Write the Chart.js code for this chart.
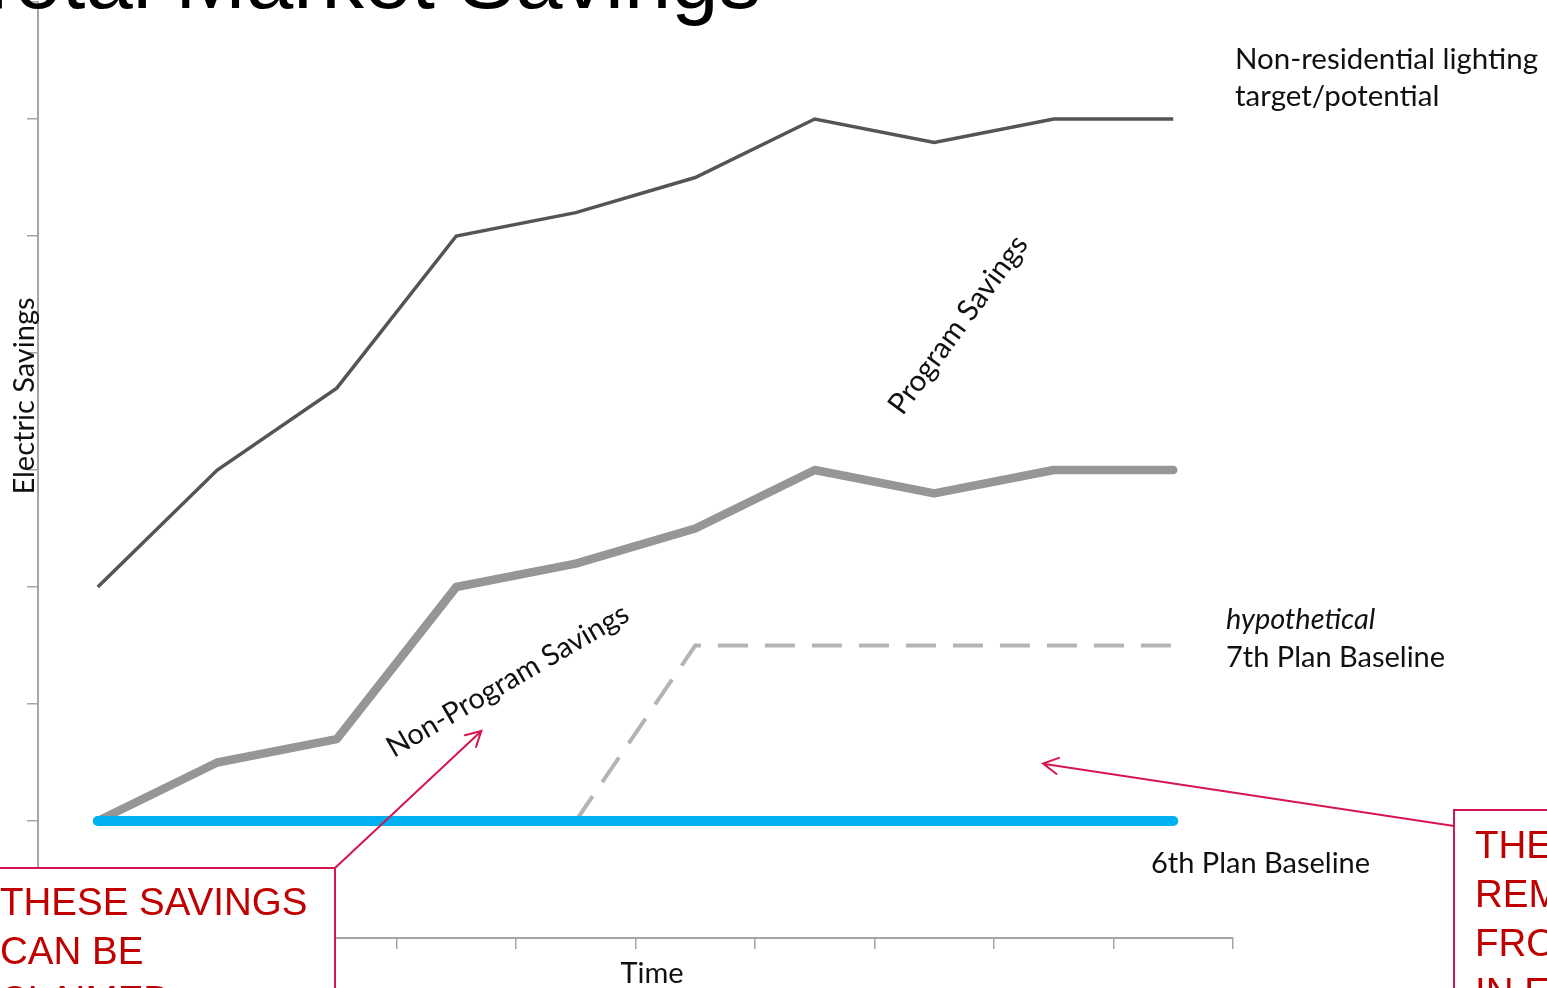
<!DOCTYPE html>
<html lang="en">
<head>
<meta charset="UTF-8">
<title>Total Market Savings</title>
<script src="https://cdn.jsdelivr.net/npm/chart.js"></script>
<style>
    html, body { margin: 0; padding: 0; background: #fff; overflow: hidden; }
    .wrap { position: relative; width: 1547px; height: 988px; }
</style>
</head>
<body>
<div class="wrap"><canvas id="myChart"></canvas></div>
<script>
    // time periods (no labels shown on the axis)
    const periods = ['P1', 'P2', 'P3', 'P4', 'P5', 'P6', 'P7', 'P8', 'P9', 'P10'];
    // electric savings, in axis tick units
    const targetPotential = [2.0, 3.0, 3.7, 5.0, 5.2, 5.5, 6.0, 5.8, 6.0, 6.0];
    const nonProgramSavings = [0, 0.5, 0.7, 2.0, 2.2, 2.5, 3.0, 2.8, 3.0, 3.0];
    const plan7Baseline = [null, null, null, null, 0, 1.5, 1.5, 1.5, 1.5, 1.5];
    const plan6Baseline = [0, 0, 0, 0, 0, 0, 0, 0, 0, 0];
    const yMin = -1, yMax = 7, yStep = 1;

    const axisGray = '#a6a6a6';
    const red = '#c00000';
    const pink = '#d5174f';
    const calibri = 'Lato, "Open Sans", sans-serif';
    const arial = '"Liberation Sans", Arial, sans-serif';

    function text(ctx, str, x, y, o) {
        ctx.save();
        ctx.font = (o.italic ? 'italic ' : '') + o.size + 'px ' + o.family;
        ctx.fillStyle = o.color || '#111';
        ctx.textAlign = o.align || 'left';
        ctx.textBaseline = o.baseline || 'alphabetic';
        ctx.translate(x, y);
        if (o.angle) ctx.rotate(o.angle * Math.PI / 180);
        ctx.fillText(str, 0, 0);
        ctx.restore();
    }

    function arrow(ctx, x1, y1, x2, y2) {
        const a = Math.atan2(y2 - y1, x2 - x1), h = 17, w = 0.5;
        ctx.save();
        ctx.strokeStyle = pink;
        ctx.lineWidth = 2;
        ctx.lineCap = 'round';
        ctx.beginPath();
        ctx.moveTo(x1, y1);
        ctx.lineTo(x2, y2);
        ctx.moveTo(x2 - h * Math.cos(a - w), y2 - h * Math.sin(a - w));
        ctx.lineTo(x2, y2);
        ctx.lineTo(x2 - h * Math.cos(a + w), y2 - h * Math.sin(a + w));
        ctx.stroke();
        ctx.restore();
    }

    function box(ctx, x, y, w, h, lines, tx, ty) {
        ctx.save();
        ctx.fillStyle = '#fff';
        ctx.strokeStyle = pink;
        ctx.lineWidth = 2;
        ctx.fillRect(x, y, w, h);
        ctx.strokeRect(x, y, w, h);
        ctx.restore();
        lines.forEach((l, i) => {
            text(ctx, l, tx, ty + i * 49, { size: 38.5, family: arial, color: red });
        });
    }

    const annotations = {
        id: 'annotations',
        afterDraw(chart) {
            const ctx = chart.ctx;
            const xs = chart.scales.x, ys = chart.scales.y;
            const px = v => xs.getPixelForValue(v);
            const py = v => ys.getPixelForValue(v);

            text(ctx, 'Total Market Savings', -28, 8, { size: 85, family: arial, color: '#000' });

            text(ctx, 'Electric Savings', 34, 396, { size: 29, family: calibri, angle: -90, align: 'center' });
            text(ctx, 'Time', 652, 983, { size: 29, family: calibri, align: 'center' });

            text(ctx, 'Non-residential lighting', 1235, 69, { size: 29.5, family: calibri });
            text(ctx, 'target/potential', 1235, 106, { size: 29.5, family: calibri });
            text(ctx, 'hypothetical', 1226, 629, { size: 29, family: calibri, italic: true });
            text(ctx, '7th Plan Baseline', 1226, 667, { size: 29, family: calibri });
            text(ctx, '6th Plan Baseline', 1151, 873, { size: 29, family: calibri });

            text(ctx, 'Program Savings', px(7.2), py(4.24), { size: 29.5, family: calibri, angle: -53.7, align: 'center', baseline: 'middle' });
            text(ctx, 'Non-Program Savings', px(3.43), py(1.2), { size: 29, family: calibri, angle: -30.3, align: 'center', baseline: 'middle' });

            arrow(ctx, 335, 868, px(3.21), py(0.77));
            arrow(ctx, 1454, 826, px(7.91), py(0.49));

            box(ctx, -21, 868, 356, 150, ['THESE SAVINGS', 'CAN BE', 'CLAIMED'], 0, 915);
            box(ctx, 1454, 810, 120, 200, ['THESE SAVINGS', 'REMOVED', 'FROM', 'IN EFFECT'], 1475, 858);
        }
    };

    new Chart(document.getElementById('myChart'), {
        type: 'line',
        data: {
            labels: periods,
            datasets: [{
                label: '6th Plan Baseline',
                data: plan6Baseline,
                borderColor: '#00b0f0',
                borderWidth: 10,
                borderCapStyle: 'round'
            }, {
                label: 'Non-residential lighting target/potential',
                data: targetPotential,
                borderColor: '#555555',
                borderWidth: 3.5
            }, {
                label: 'Non-Program Savings',
                data: nonProgramSavings,
                borderColor: '#969696',
                borderWidth: 8.5,
                borderCapStyle: 'round',
                borderJoinStyle: 'round'
            }, {
                label: 'hypothetical 7th Plan Baseline',
                data: plan7Baseline,
                borderColor: '#b4b4b4',
                borderWidth: 4,
                borderDash: [30, 17],
                spanGaps: false
            }]
        },
        options: {
            responsive: true,
            maintainAspectRatio: false,
            animation: false,
            layout: { padding: { left: 27, right: 314, top: 2, bottom: 39 } },
            elements: { point: { radius: 0 }, line: { tension: 0, fill: false } },
            plugins: { legend: { display: false }, title: { display: false }, tooltip: { enabled: false } },
            scales: {
                x: {
                    offset: true,
                    grid: { offset: true, drawOnChartArea: false, drawTicks: true, tickLength: 11, color: axisGray, lineWidth: 1.5 },
                    border: { color: axisGray, width: 2 },
                    ticks: { display: false }
                },
                y: {
                    min: yMin,
                    max: yMax,
                    grid: { drawOnChartArea: false, drawTicks: true, tickLength: 11, color: axisGray, lineWidth: 1.5 },
                    border: { color: axisGray, width: 2 },
                    ticks: { display: false, stepSize: yStep }
                }
            }
        },
        plugins: [annotations]
    });
</script>
</body>
</html>
